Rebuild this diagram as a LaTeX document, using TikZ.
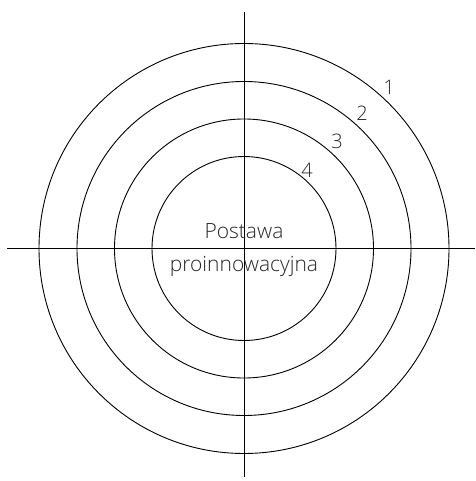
\documentclass[tikz,border=0pt]{standalone}
\usepackage{fontspec}
\setmainfont{Open Sans}[UprightFont=* Light]
\begin{document}
\begin{tikzpicture}[x=1pt,y=1pt,
    axis/.style={line width=0.9pt},
    ring/.style={line width=0.9pt},
    ringlabel/.style={text=black!85, font=\fontsize{20}{24}\selectfont, inner sep=0pt},
    centertext/.style={text=black!85, font=\fontsize{21}{25}\selectfont, inner sep=0pt, anchor=base}]
  \useasboundingbox (-244,-232.5) rectangle (231,248.5);
  % osie
  \coordinate (west) at (-237,0);
  \coordinate (east) at (231,0);
  \coordinate (north) at (0,236);
  \coordinate (south) at (0,-228.5);
  \draw[axis] (west) -- (east);
  \draw[axis] (north) -- (south);
  % okregi
  \foreach \r in {205,167,129.5,92}
    \draw[ring] (0,0) circle (\r);
  % numery okregow
  \node[ringlabel] (n1) at (145,161.5) {1};
  \node[ringlabel] (n2) at (118,135.5) {2};
  \node[ringlabel] (n3) at (93,107.5) {3};
  \node[ringlabel] (n4) at (63,78.5) {4};
  % napis w srodku
  \node[centertext] (postawa) at (0,10.2) {Postawa};
  \node[centertext] (proinno) at (0,-23.5) {proinnowacyjna};
\end{tikzpicture}
\end{document}
